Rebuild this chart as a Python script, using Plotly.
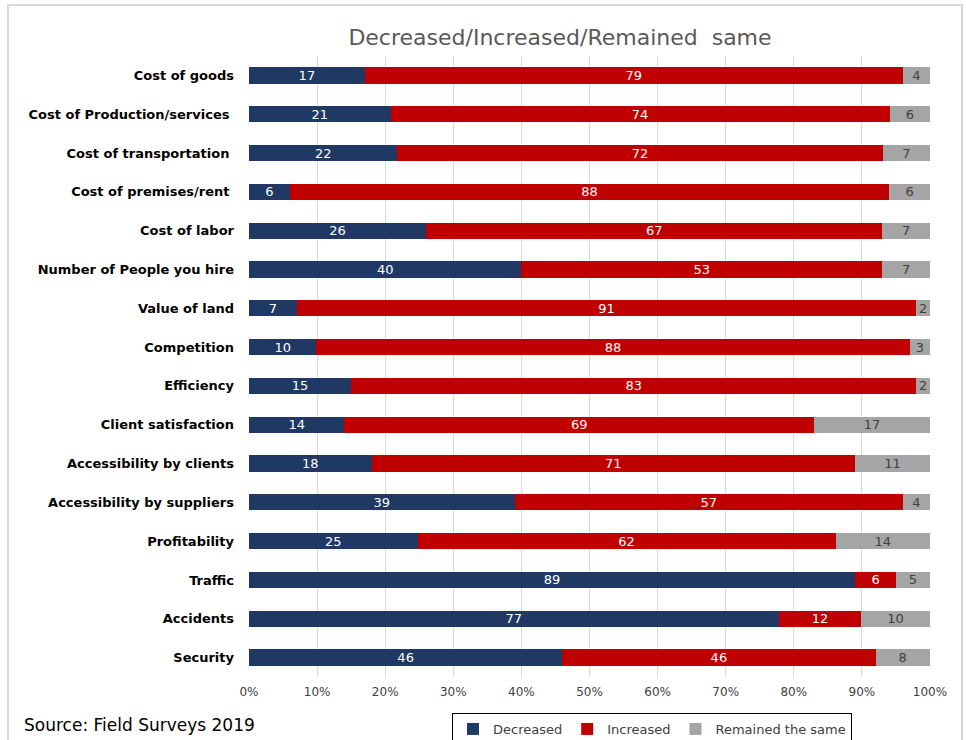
import plotly.graph_objects as go

categories = [
    "Cost of goods", "Cost of Production/services ", "Cost of transportation ",
    "Cost of premises/rent ", "Cost of labor", "Number of People you hire",
    "Value of land", "Competition", "Efficiency", "Client satisfaction",
    "Accessibility by clients", "Accessibility by suppliers", "Profitability",
    "Traffic", "Accidents", "Security",
]
decreased = [17, 21, 22, 6, 26, 40, 7, 10, 15, 14, 18, 39, 25, 89, 77, 46]
increased = [79, 74, 72, 88, 67, 53, 91, 88, 83, 69, 71, 57, 62, 6, 12, 46]
remained = [4, 6, 7, 6, 7, 7, 2, 3, 2, 17, 11, 4, 14, 5, 10, 8]

series = [
    ("Decreased", decreased, "#203864", "white"),
    ("Increased", increased, "#C00000", "white"),
    ("Remained the same", remained, "#A5A5A5", "#404040"),
]

fig = go.Figure()
for name, vals, color, tcolor in series:
    fig.add_trace(go.Bar(
        name=name, y=categories, x=vals, orientation="h",
        marker=dict(color=color, line=dict(width=0)),
        text=[str(v) for v in vals], textposition="inside",
        insidetextanchor="middle", textangle=0,
        textfont=dict(color=tcolor, size=13, family="DejaVu Sans"),
        hoverinfo="skip",
    ))

# plot area in pixels: l=249, r=930, t=56, b=677
L, R, T, B = 249, 930, 56, 677
W, H = R - L, B - T
def px(x): return (x - L) / W
def py(y): return (B - y) / H

fig.update_layout(
    width=966, height=740,
    margin=dict(l=L, r=966 - R, t=T, b=740 - B, autoexpand=False),
    barmode="stack", barnorm="percent", bargap=0.58,
    paper_bgcolor="white", plot_bgcolor="white",
    uniformtext=dict(minsize=12, mode="show"),
    title=dict(text="Decreased/Increased/Remained  same", x=px(560), xref="paper",
               xanchor="center", y=1 - 37 / 740, yanchor="middle",
               font=dict(family="DejaVu Sans", size=22, color="#595959")),
    xaxis=dict(range=[0, 100], dtick=10, ticksuffix="%", showgrid=True,
               gridcolor="#D9D9D9", gridwidth=1, zeroline=False,
               tickfont=dict(family="DejaVu Sans", size=12, color="#404040"),
               ticks="", ticklabelstandoff=6, fixedrange=True),
    yaxis=dict(autorange="reversed", ticks="", ticklabelstandoff=14,
               tickfont=dict(family="DejaVu Sans", size=13, color="black", weight="bold"),
               showgrid=False),
    showlegend=True,
    legend=dict(orientation="h", x=px(652), xanchor="center",
                yref="container", y=1 - 713 / 740, yanchor="top",
                bordercolor="black", borderwidth=1, bgcolor="white",
                font=dict(family="DejaVu Sans", size=13, color="#404040"),
                traceorder="normal", itemwidth=30),
    annotations=[dict(text="Source: Field Surveys 2019", xref="paper", yref="paper",
                      x=px(22), y=py(725), xanchor="left", yanchor="middle",
                      showarrow=False,
                      font=dict(family="DejaVu Sans", size=17, color="black"))],
    shapes=[dict(type="rect", xref="paper", yref="paper", x0=px(8), x1=px(962),
                 y0=py(745), y1=py(5), line=dict(color="#D9D9D9", width=2),
                 layer="below")],
)

fig.write_html("out.html")
